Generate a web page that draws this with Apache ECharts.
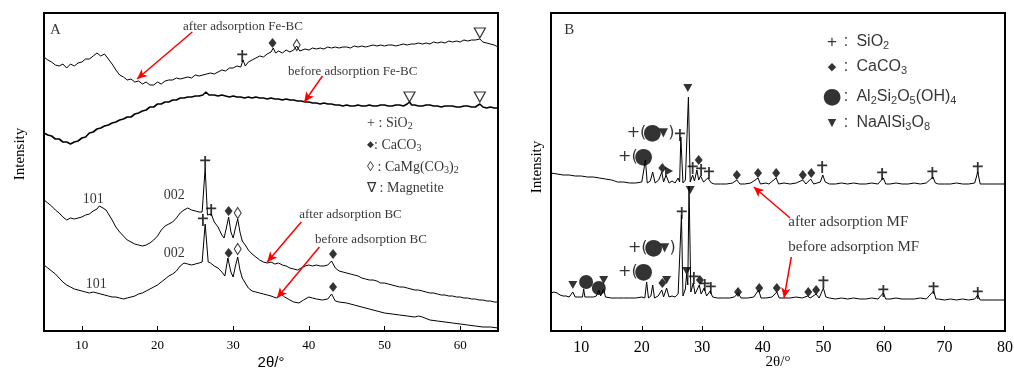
<!DOCTYPE html>
<html>
<head>
<meta charset="utf-8">
<script src="https://cdn.jsdelivr.net/npm/echarts@6/dist/echarts.min.js"></script>
<style>
html, body { margin: 0; padding: 0; background: #fff; }
#main { width: 1014px; height: 370px; }
</style>
</head>
<body>
<div id="main"></div>
<script>
// ---- panel A traces, [2θ, intensity (a.u.)] ----
const afterFeBC = [[5,274],[5.5,271],[6,269],[6.5,266],[7,265],[7.5,267],[8,263],[8.5,267],[9,265],[9.5,268],[10,269],[10.5,272],[11,272],[11.5,275],[12,278],[12.5,275],[13,277],[13.5,272],[14,267],[14.5,261],[15,256],[15.5,254],[16,251],[16.5,252],[17,249],[17.5,250],[18,247],[18.5,249],[19,246],[19.5,246],[20,249],[20.5,247],[21,250],[21.5,251],[22,251],[22.5,253],[23,252],[23.5,253],[24,254],[24.5,253],[25,256],[25.5,255],[26,256],[26.5,257],[27,258],[27.5,257],[28,259],[28.5,261],[29,260],[29.5,263],[30,263],[30.5,265],[31,264],[31.3,271],[31.6,265],[32,269],[32.5,271],[33,273],[33.5,275],[34,274],[34.5,277],[35,279],[35.3,283],[35.6,278],[36,280],[36.5,278],[37,281],[37.5,279],[38,281],[38.4,285],[38.8,280],[39.5,282],[40,281],[40.5,283],[41,282],[41.5,283],[42,282],[42.5,284],[43,283],[43.5,284],[44,283],[44.5,284],[45,284],[45.5,283],[46,285],[46.5,284],[47,285],[47.5,284],[48,285],[48.5,286],[49,285],[49.5,286],[50,285],[50.5,286],[51,286],[51.5,285],[52,286],[52.5,287],[53,286],[53.5,287],[54,287],[54.5,288],[55,287],[55.5,288],[56,287],[56.5,289],[57,288],[57.5,289],[58,288],[58.5,290],[59,289],[59.5,290],[60,289],[60.5,291],[61,290],[61.5,291],[62,291],[62.6,292],[63,289],[63.5,288],[64,287],[64.5,286],[65,284]];
const beforeFeBC = [[5,198],[5.5,196],[6,195],[6.5,192],[7,192],[7.5,189],[8,189],[8.5,187],[9,189],[9.5,190],[10,193],[10.5,194],[11,198],[11.5,199],[12,202],[12.5,203],[13,205],[13.5,206],[14,208],[14.5,209],[15,211],[15.5,212],[16,214],[16.5,214],[17,217],[17.5,218],[18,220],[18.5,221],[19,224],[19.5,224],[20,227],[20.5,227],[21,229],[21.5,229],[22,231],[22.5,231],[23,233],[23.5,233],[24,234],[24.5,234],[25,235],[25.5,235],[26,236],[26.4,239],[26.8,236],[27.5,236],[28,235],[28.5,236],[29,235],[29.5,234],[30,235],[30.5,234],[31,234],[31.5,233],[32,234],[32.5,233],[33,234],[33.5,233],[34,233],[34.5,232],[35,233],[35.5,232],[36,232],[36.5,231],[37,232],[37.5,231],[38,231],[38.5,230],[39,230],[39.5,229],[40,229],[40.5,228],[41,228],[41.5,227],[42,228],[42.5,227],[43,227],[43.5,226],[44,226],[44.5,225],[45,226],[45.5,225],[46,225],[46.5,226],[47,225],[47.5,225],[48,226],[48.5,225],[49,225],[49.5,226],[50,226],[50.5,225],[51,225],[51.5,226],[52,226],[52.5,225],[53,227],[53.3,229],[53.6,226],[54,226],[54.5,225],[55,225],[55.5,226],[56,226],[56.5,225],[57,225],[57.5,224],[58,225],[58.5,225],[59,225],[59.5,224],[60,224],[60.5,225],[61,225],[61.5,224],[62,224],[62.6,227],[63,224],[63.5,223],[64,224],[64.5,223],[65,223]];
const afterBC = [[5,131],[5.5,128],[6,125],[6.5,121],[7,118],[7.5,114],[8,111],[8.5,113],[9,112],[9.5,113],[10,114],[10.5,116],[11,117],[11.5,120],[12,122],[12.3,125],[12.8,123],[13.2,121],[13.6,116],[14,111],[14.5,104],[15,99],[15.5,95],[16,91],[16.5,89],[17,87],[17.5,86],[18,85],[18.5,86],[19,88],[19.5,91],[20,95],[20.5,101],[21,105],[21.5,107],[22,109],[22.5,113],[23,118],[23.5,121],[24,123],[24.5,121],[25,120],[25.5,119],[25.9,119],[26.3,163],[26.6,116],[27.1,117],[27.5,109],[28,104],[28.5,96],[28.8,93],[29.1,103],[29.4,114],[29.7,99],[30,93],[30.3,103],[30.6,112],[30.9,99],[31.2,90],[31.6,86],[32,81],[32.5,77],[33,74],[33.5,71],[34,69],[34.5,68],[35,69],[35.5,67],[36,68],[36.5,66],[37,65],[37.5,63],[38,62],[38.5,61],[39,63],[39.5,65],[40,66],[40.5,65],[41,66],[41.5,65],[42,65],[42.5,66],[43,70],[43.5,63],[44,60],[44.5,59],[45,58],[45.5,57],[46,56],[46.5,55],[47,53],[47.5,52],[48,51],[48.5,51],[49,50],[49.5,48],[50,48],[50.5,47],[51,46],[51.5,45],[52,44],[52.5,44],[53,43],[53.5,42],[54,41],[54.5,41],[55,40],[55.5,39],[56,38],[56.5,38],[57,37],[57.5,36],[58,36],[58.5,35],[59,35],[59.5,34],[60,34],[60.5,33],[61,33],[61.5,32],[62,32],[62.5,31],[63,31],[63.5,30],[64,30],[64.5,29],[65,29]];
const beforeBC = [[5,66],[5.5,63],[6,60],[6.5,57],[7,53],[7.5,49],[8,46],[8.5,44],[9,42],[9.5,41],[10,40],[10.5,39],[11,38],[11.5,39],[12,38],[12.5,37],[13,36],[13.5,35],[14,34],[14.5,34],[15,33],[15.5,32],[16,33],[16.5,34],[17,35],[17.5,37],[18,38],[18.5,40],[19,42],[19.5,44],[20,46],[20.5,49],[21,52],[21.5,55],[22,57],[22.5,60],[23,65],[23.5,68],[24,67],[24.5,66],[25,67],[25.5,68],[25.9,69],[26.3,107],[26.7,69],[27,68],[27.5,65],[28,63],[28.5,59],[28.9,55],[29.3,73],[29.7,59],[30,54],[30.3,65],[30.6,74],[30.9,61],[31.2,53],[31.6,48],[32,43],[32.5,40],[33,39],[33.5,38],[34,37],[34.5,36],[35,35],[35.7,33],[36.3,37],[36.8,34],[37.5,31],[38,29],[38.7,28],[39.3,31],[40,34],[40.5,33],[41,32],[41.8,31],[42.5,32],[43,37],[43.5,30],[44,29],[45,28],[46,26],[47,24],[48,22],[49,20],[50,18],[51,17],[52,16],[53,15],[54,14],[54.5,15],[55,14],[56,11],[57,10],[58,9],[59,8],[60,7],[61,6],[62,5],[63,4],[64,4],[65,3]];

// ---- panel B traces ----
const afterMF = [[5,158],[6,157],[7,156],[8,156],[9,155],[10,155],[11,154],[12,154],[13,153],[14,152],[15,151],[15.5,150],[16,149],[17,149],[18,148],[19,148],[20,149],[20.3,148],[20.6,171],[20.9,148],[21.4,150],[21.8,159],[22.2,148],[22.8,151],[23.3,159],[23.6,149],[24,156],[24.5,148],[25,150],[25.5,148],[26,153],[26.25,149],[26.45,194],[26.8,148],[27.2,151],[27.7,234],[28,149],[28.4,156],[28.7,150],[29.1,161],[29.4,151],[29.7,155],[30.2,149],[30.9,153],[31.5,148],[32,147],[33,147],[34,147],[35,148],[35.7,151],[36.2,147],[37,147],[38,148],[39.2,153],[39.6,147],[40.5,148],[41,147],[42.2,153],[42.6,147],[43.5,148],[44.5,147],[45.5,148],[46.6,151],[47.1,147],[47.9,152],[48.4,147],[49.5,149],[49.9,156],[50.3,149],[51,147],[52,147],[53,148],[54,147],[55,148],[56,147],[57,147],[58,148],[59,147],[59.9,153],[60.3,147],[61,147],[62,148],[63,147],[64,147],[65,148],[66,147],[67,148],[68.1,154],[68.5,148],[69,147],[70,147],[71,147],[72,148],[73,147],[74,147],[75,148],[75.5,159],[75.9,147],[77,147],[78,147],[79,147],[80,147]];
const beforeMF = [[5,38],[5.5,39],[6,38],[6.5,36],[7,35],[7.5,35],[8,34],[8.6,39],[9,34],[9.5,34],[10.2,34],[10.4,42],[10.6,34],[11,34],[11.5,34],[12,34],[12.5,35],[12.9,41],[13.2,35],[13.7,42],[14,34],[15,33],[16,33],[17,33],[18,33],[19,33],[20,34],[20.5,33],[20.8,49],[21.1,33],[21.5,35],[21.8,46],[22.1,33],[22.7,35],[23.3,41],[23.6,34],[24.1,43],[24.5,34],[25,35],[25.5,34],[26,37],[26.3,35],[26.55,116],[26.8,35],[27.2,42],[27.4,57],[27.6,46],[27.8,145],[28.1,39],[28.5,48],[28.8,37],[29.5,46],[29.8,37],[30.3,43],[30.7,35],[31.3,40],[31.7,34],[32.5,33],[33.5,33],[34.5,33],[35.3,34],[35.9,38],[36.4,33],[37.5,33],[38.5,34],[39.3,41],[39.7,33],[40.5,33],[41.5,34],[42.3,39],[42.7,33],[43.5,33],[44.5,33],[45.5,34],[46.5,33],[47.4,35],[47.8,33],[48.8,37],[49.3,33],[50,43],[50.4,34],[51,33],[52,32],[53,33],[54,32],[55,33],[56,32],[57,32],[58,33],[59,32],[59.9,38],[60.3,32],[61,32],[62,33],[63,32],[64,32],[65,32],[66,33],[67,32],[68.2,40],[68.6,32],[69,32],[70,31],[71,32],[72,31],[73,32],[74,31],[75,32],[75.5,36],[75.9,31],[77,31],[78,31],[79,31],[80,31]];

// ---- phase marks ----
const aQuartz = [[31.2,275],[26.3,169],[27.1,121],[26.0,111]];
const aCalcite = [[35.2,288],[29.4,120],[43.2,77],[29.4,78],[43.2,44]];
const aDolomite = [[38.4,286],[30.6,118],[30.6,82]];
const aMagnetite = [[62.6,298],[53.3,234],[62.6,234]];
const bQuartz = [[26.3,196],[28.4,163],[29.8,161],[31.1,158],[49.8,164],[59.7,157],[68.0,158],[75.5,163],
  [26.6,118],[28.6,53],[30.4,46],[31.4,43],[50.0,49],[59.9,40],[68.2,43],[75.5,38]];
const bCalcite = [[23.4,163],[29.4,171],[35.7,156],[39.2,158],[42.2,158],[46.6,156],[48.0,158],
  [23.4,48],[29.6,51],[35.9,39],[39.4,43],[42.3,43],[47.5,39],[48.8,41]];
const bKaolinite = [[10.8,49],[12.9,43]];
const bAlbite = [[27.6,243],[8.6,46],[13.7,51],[24.1,51],[27.4,60],[28.0,141]];
const bAlbiteSide = [[24.5,160]];

const xTicksA = [10, 20, 30, 40, 50, 60];
const xTicksB = [10, 20, 30, 40, 50, 60, 70, 80];

const serif = '"Liberation Serif", "Times New Roman", serif';
const sans = '"Liberation Sans", Arial, sans-serif';
const plusPath = 'path://M4.1,0h1.8v12h-1.8zM0,3.4h10v1.8h-10z';

function trace (data, xi, w) {
  return {
    type: 'line', data: data, xAxisIndex: xi, yAxisIndex: xi,
    showSymbol: false, smooth: false, silent: true,
    lineStyle: { color: '#000', width: w || 1 }
  }
}
function marks (data, xi, symbol, size, extra) {
  return Object.assign({
    type: 'scatter', data: data, xAxisIndex: xi, yAxisIndex: xi,
    symbol: symbol, symbolSize: size, silent: true,
    itemStyle: { color: '#000' }
  }, extra || {})
}
function note (x, y, text, opt) {
  return {
    value: [x, y],
    label: Object.assign({ show: true, formatter: text, position: 'inside', color: '#000' }, opt || {})
  }
}
function arrow (x1, y1, x2, y2) {
  return [{ coord: [x1, y1] }, { coord: [x2, y2] }]
}

const richA = {
  t: { fontSize: 14, fontFamily: serif, color: '#000' },
  d: { fontSize: 9, fontFamily: '"DejaVu Sans"', color: '#000' },
  s: { fontSize: 10, fontFamily: serif, padding: [7, 0, 0, 0], color: '#000' }
};
const richB = {
  g: { width: 16, align: 'center', fontSize: 17, fontFamily: sans, color: '#000' },
  gb: { width: 16, align: 'center', fontSize: 22, fontFamily: '"DejaVu Sans"', color: '#000' },
  gs: { width: 16, align: 'center', fontSize: 11, fontFamily: '"DejaVu Sans"', color: '#000' },
  c: { width: 12, align: 'center', fontSize: 16, fontFamily: sans, color: '#000' },
  t: { fontSize: 16, fontFamily: sans, color: '#000' },
  s: { fontSize: 11, fontFamily: sans, padding: [8, 0, 0, 0], color: '#000' }
};
const richTag = {
  p: { fontSize: 16, fontFamily: '"DejaVu Sans"', color: '#000' },
  o: { width: 12, align: 'center', fontSize: 22, fontFamily: '"DejaVu Sans"', color: '#000' },
  v: { width: 10, align: 'center', fontSize: 12, fontFamily: '"DejaVu Sans"', color: '#000' }
};

const notesA = [
  note(5.8, 301, 'A', { align: 'left', fontSize: 15, fontFamily: serif }),
  note(31.3, 304, 'after adsorption Fe-BC', { fontSize: 13, fontFamily: serif }),
  note(45.8, 259, 'before adsorption Fe-BC', { fontSize: 13, fontFamily: serif }),
  note(45.5, 116, 'after adsorption BC', { fontSize: 13, fontFamily: serif }),
  note(48.2, 91, 'before adsorption BC', { fontSize: 13, fontFamily: serif }),
  note(11.5, 132, '101', { fontSize: 14, fontFamily: serif }),
  note(11.9, 47, '101', { fontSize: 14, fontFamily: serif }),
  note(22.2, 136, '002', { fontSize: 14, fontFamily: serif }),
  note(22.2, 78, '002', { fontSize: 14, fontFamily: serif }),
  note(47.7, 208, '{t|+ : SiO}{s|2}', { align: 'left', rich: richA }),
  note(47.7, 186, '{d|◆}{t|: CaCO}{s|3}', { align: 'left', rich: richA }),
  note(47.7, 164, '{t|◊ : CaMg(CO}{s|3}{t|)}{s|2}', { align: 'left', rich: richA }),
  note(47.7, 143, '{t|∇ : Magnetite}', { align: 'left', rich: richA })
];
const notesB = [
  note(7.2, 301, 'B', { align: 'left', fontSize: 15, fontFamily: serif }),
  note(50.1, 289, '{g|+}{c|:}{t| SiO}{s|2}', { align: 'left', rich: richB }),
  note(50.1, 264, '{gs|◆}{c|:}{t| CaCO}{s|3}', { align: 'left', rich: richB }),
  note(50.1, 234, '{gb|●}{c|:}{t| Al}{s|2}{t|Si}{s|2}{t|O}{s|5}{t|(OH)}{s|4}', { align: 'left', rich: richB }),
  note(50.1, 208, '{gs|▼}{c|:}{t| NaAlSi}{s|3}{t|O}{s|8}', { align: 'left', rich: richB }),
  note(44.2, 109, 'after adsorption MF', { align: 'left', fontSize: 15, fontFamily: serif }),
  note(44.2, 84, 'before adsorption MF', { align: 'left', fontSize: 15, fontFamily: serif }),
  note(21.3, 174, '{p|+(}{o|●}', { align: 'right', rich: richTag }),
  note(17.5, 198, '{p|+(}{o|●}{v|▼}{p|)}', { align: 'left', rich: richTag }),
  note(21.3, 59, '{p|+(}{o|●}', { align: 'right', rich: richTag }),
  note(17.7, 83, '{p|+(}{o|●}{v|▼}{p|)}', { align: 'left', rich: richTag })
];

const arrowStyle = {
  silent: true, symbol: ['none', 'arrow'], symbolSize: [7, 10],
  lineStyle: { color: '#f00', width: 1.5, type: 'solid' },
  label: { show: false }
};

function xAxisFor (gi, max, ticks, font, size, margin, gap) {
  return {
    type: 'value', gridIndex: gi, min: 5, max: max,
    name: '2θ/°', nameLocation: 'middle', nameGap: gap, nameMoveOverlap: false,
    nameTextStyle: { fontFamily: font, fontSize: 15, color: '#000' },
    axisLine: { show: false },
    axisTick: { show: true, inside: true, length: 5, customValues: ticks, lineStyle: { color: '#000', width: 1 } },
    axisLabel: { customValues: ticks, fontFamily: serif, fontSize: size, color: '#000', margin: margin },
    splitLine: { show: false }
  }
}
function yAxisFor (gi) {
  return {
    type: 'value', gridIndex: gi, min: 0, max: 318,
    axisLine: { show: false }, axisTick: { show: false },
    axisLabel: { show: false }, splitLine: { show: false }
  }
}

const option = {
  animation: false,
  backgroundColor: '#fff',
  grid: [
    { left: 44, top: 13, width: 454, height: 318, show: true, borderColor: '#000', borderWidth: 2, outerBoundsMode: 'none', containLabel: false },
    { left: 551, top: 13, width: 454, height: 318, show: true, borderColor: '#000', borderWidth: 2, outerBoundsMode: 'none', containLabel: false }
  ],
  xAxis: [xAxisFor(0, 65, xTicksA, sans, 13, 8, 24), xAxisFor(1, 80, xTicksB, serif, 16, 9, 24)],
  yAxis: [yAxisFor(0), yAxisFor(1)],
  graphic: [
    { type: 'text', x: 20, y: 154, rotation: Math.PI / 2,
      style: { text: 'Intensity', font: '15px ' + serif, fill: '#000', textAlign: 'center', textVerticalAlign: 'middle' } },
    { type: 'text', x: 537, y: 167, rotation: Math.PI / 2,
      style: { text: 'Intensity', font: '15px ' + serif, fill: '#000', textAlign: 'center', textVerticalAlign: 'middle' } }
  ],
  series: [
    trace(afterFeBC, 0, 1),
    trace(beforeFeBC, 0, 1.6),
    trace(afterBC, 0, 1),
    trace(beforeBC, 0, 1),
    trace(afterMF, 1, 1),
    trace(beforeMF, 1, 1),
    marks(aQuartz, 0, plusPath, [10, 12]),
    marks(aCalcite, 0, 'diamond', [8, 10]),
    marks(aDolomite, 0, 'diamond', [7, 11], { itemStyle: { color: '#fff', borderColor: '#000', borderWidth: 1 } }),
    marks(aMagnetite, 0, 'triangle', [11, 10], { symbolRotate: 180, itemStyle: { color: '#fff', borderColor: '#000', borderWidth: 1.2 } }),
    marks(bQuartz, 1, plusPath, [10, 12]),
    marks(bCalcite, 1, 'diamond', [8, 10]),
    marks(bKaolinite, 1, 'circle', 14),
    marks(bAlbite, 1, 'triangle', [9, 8], { symbolRotate: 180 }),
    marks(bAlbiteSide, 1, 'triangle', [9, 8], { symbolRotate: -90 }),
    {
      type: 'scatter', xAxisIndex: 0, yAxisIndex: 0, symbolSize: 0, silent: true,
      data: notesA,
      markLine: Object.assign({
        data: [arrow(24.6, 299, 17.3, 252), arrow(41.8, 255, 39.4, 229), arrow(39.0, 109, 34.5, 69), arrow(41.4, 84, 35.8, 33)]
      }, arrowStyle)
    },
    {
      type: 'scatter', xAxisIndex: 1, yAxisIndex: 1, symbolSize: 0, silent: true,
      data: notesB,
      markLine: Object.assign({
        data: [arrow(44.5, 113, 38.5, 144), arrow(44.7, 74, 43.5, 33)]
      }, arrowStyle)
    }
  ]
};

const chart = echarts.init(document.getElementById('main'));
chart.setOption(option);
</script>
</body>
</html>
